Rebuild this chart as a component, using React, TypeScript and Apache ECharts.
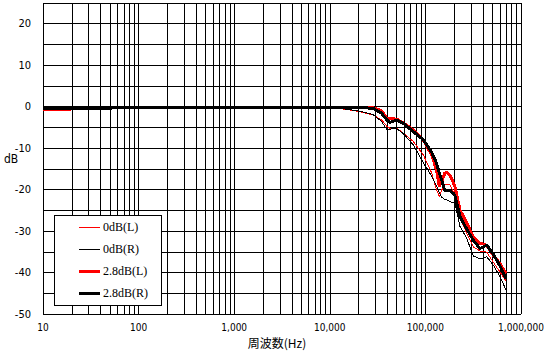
import React, { useEffect, useRef } from "react";
import * as echarts from "echarts";

// Frequencies (Hz) at which the curves are sampled
const FREQ = [10, 17, 20, 40, 50, 60, 100, 1000, 5000, 10000, 13700, 20700, 28300, 34900, 39400, 42600, 50100, 58700, 74700, 95000, 116000, 131000, 140000, 148000, 160000, 167000, 181000, 204000, 230000, 270000, 317000, 372000, 438000, 513000, 603000, 697000];

// Response (dB)
const L0 = [-0.6, -0.6, -0.55, -0.5, -0.4, -0.2, -0.15, -0.1, -0.15, -0.3, -0.55, -1.2, -2.0, -3.2, -4.7, -5.2, -5.2, -6.4, -8.4, -11.6, -15.9, -20.1, -21.7, -20.1, -18.7, -18.7, -18.9, -21.5, -26.8, -30.5, -33.8, -34.8, -35.1, -37.5, -39.9, -42.0];
const R0 = [-0.55, -0.55, -0.55, -0.55, -0.4, -0.2, -0.15, -0.1, -0.15, -0.3, -0.5, -1.1, -1.9, -3.6, -5.5, -5.4, -5.3, -6.5, -9.2, -13.5, -16.7, -19.1, -20.8, -21.8, -22.5, -22.5, -22.9, -23.3, -28.9, -31.7, -36.0, -36.7, -36.2, -38.2, -41.0, -44.2];
const L28 = [-0.7, -0.7, -0.55, -0.55, -0.4, -0.15, -0.15, -0.1, -0.1, -0.1, -0.15, -0.2, -0.3, -1.0, -2.8, -2.9, -3.0, -3.9, -5.6, -8.0, -11.6, -15.3, -19.3, -18.0, -16.0, -15.8, -16.5, -19.3, -24.9, -28.0, -31.4, -32.9, -33.4, -35.8, -37.9, -40.2];
const R28 = [-0.55, -0.55, -0.55, -0.55, -0.4, -0.15, -0.15, -0.1, -0.1, -0.1, -0.15, -0.2, -0.4, -1.6, -3.2, -3.8, -3.2, -4.0, -6.0, -8.0, -10.9, -13.7, -16.0, -17.7, -20.3, -20.3, -20.3, -21.5, -26.5, -29.5, -32.2, -34.2, -33.4, -35.6, -38.4, -41.4];

const SERIES_NAMES = ["0dB(L)", "0dB(R)", "2.8dB(L)", "2.8dB(R)"];
const SERIES_COLORS = ["#ff0000", "#000000", "#ff0000", "#000000"];
const SERIES_WIDTHS = [1, 1, 3, 3];
const SERIES_VALUES = [L0, R0, L28, R28];

// Minor grid frequencies: 2..9 x each decade
const DECADES = [10, 100, 1000, 10000, 100000];
const MULTIPLIERS = [2, 3, 4, 5, 6, 7, 8, 9];
const MINOR_FREQ = DECADES.flatMap((d) => MULTIPLIERS.map((m) => m * d));

const LABEL_FONT = "'Liberation Sans Narrow', 'DejaVu Sans Condensed', 'Liberation Sans', sans-serif";
const LEGEND_FONT = "'Liberation Serif', 'DejaVu Serif', serif";

export default function App() {
  const ref = useRef<HTMLDivElement>(null);

  useEffect(() => {
    if (!ref.current) return;
    const chart = echarts.init(ref.current, undefined, { renderer: "svg" });

    const gridLeft = 43;
    const gridTop = 3;
    const gridW = 478;
    const gridH = 311;

    const legendX = 54;
    const legendY = 215;
    const legendRows = [227, 249, 271, 293];

    const legendGraphics: any[] = [
      {
        type: "rect",
        z: 100,
        shape: { x: legendX + 0.5, y: legendY + 0.5, width: 107, height: 90 },
        style: { fill: "#ffffff", stroke: "#000000", lineWidth: 1 },
      },
    ];
    SERIES_NAMES.forEach((name, i) => {
      legendGraphics.push({
        type: "line",
        z: 101,
        shape: { x1: 79, y1: legendRows[i], x2: 100, y2: legendRows[i] },
        style: { stroke: SERIES_COLORS[i], lineWidth: SERIES_WIDTHS[i] },
      });
      legendGraphics.push({
        type: "text",
        z: 101,
        x: 103,
        y: legendRows[i],
        style: {
          text: name,
          font: `12px ${LEGEND_FONT}`,
          fill: "#000",
          textVerticalAlign: "middle",
          verticalAlign: "middle",
        },
      });
    });

    const option: any = {
      animation: false,
      backgroundColor: "#ffffff",
      grid: {
        left: gridLeft,
        top: gridTop,
        width: gridW,
        height: gridH,
        containLabel: false,
        outerBoundsMode: "none",
      },
      xAxis: {
        type: "log",
        logBase: 10,
        min: 10,
        max: 1000000,
        splitNumber: 5,
        axisLine: { show: true, lineStyle: { color: "#000", width: 1 } },
        axisTick: { show: false },
        splitLine: { show: true, lineStyle: { color: "#000", width: 1 } },
        axisLabel: {
          color: "#000",
          fontSize: 10,
          fontFamily: LABEL_FONT,
          margin: 8,
          showMinLabel: true,
          showMaxLabel: true,
          formatter: (v: number) => Math.round(v).toLocaleString("en-US"),
        },
      },
      yAxis: {
        type: "value",
        min: -50,
        max: 25,
        interval: 5,
        axisLine: { show: true, lineStyle: { color: "#000", width: 1 } },
        axisTick: { show: false },
        splitLine: { show: true, lineStyle: { color: "#000", width: 1 } },
        axisLabel: {
          color: "#000",
          fontSize: 11,
          fontFamily: LABEL_FONT,
          margin: 12,
          formatter: (v: number) => (v % 10 === 0 ? String(v) : ""),
        },
      },
      graphic: [
        {
          type: "text",
          x: 4,
          y: 159,
          style: { text: "dB", font: `12px ${LABEL_FONT}`, fill: "#000", verticalAlign: "middle", textVerticalAlign: "middle" },
        },
        {
          type: "text",
          x: 277,
          y: 342,
          style: {
            text: "周波数(Hz)",
            font: "12px 'Noto Sans CJK JP', sans-serif",
            fill: "#000",
            align: "center",
            textAlign: "center",
            verticalAlign: "middle",
            textVerticalAlign: "middle",
          },
        },
        ...legendGraphics,
      ],
      series: [
        {
          type: "line",
          name: "minor-grid",
          data: [],
          silent: true,
          markLine: {
            silent: true,
            z: 1,
            symbol: ["none", "none"],
            label: { show: false },
            lineStyle: { color: "#000", width: 1, type: "solid" },
            emphasis: { disabled: true },
            data: MINOR_FREQ.map((f) => ({ xAxis: f })),
          },
        },
        ...SERIES_NAMES.map((name, i) => ({
          type: "line",
          name,
          z: 3 + i,
          symbol: "none",
          showSymbol: false,
          silent: true,
          lineStyle: { color: SERIES_COLORS[i], width: SERIES_WIDTHS[i] },
          itemStyle: { color: SERIES_COLORS[i] },
          data: FREQ.map((f, j) => [f, SERIES_VALUES[i][j]]),
        })),
      ],
    };

    chart.setOption(option);
    const svg = ref.current.querySelector("svg");
    if (svg) svg.setAttribute("shape-rendering", "crispEdges");
    return () => chart.dispose();
  }, []);

  return <div ref={ref} style={{ width: 545, height: 356, position: "absolute", left: 0, top: 0 }} />;
}
